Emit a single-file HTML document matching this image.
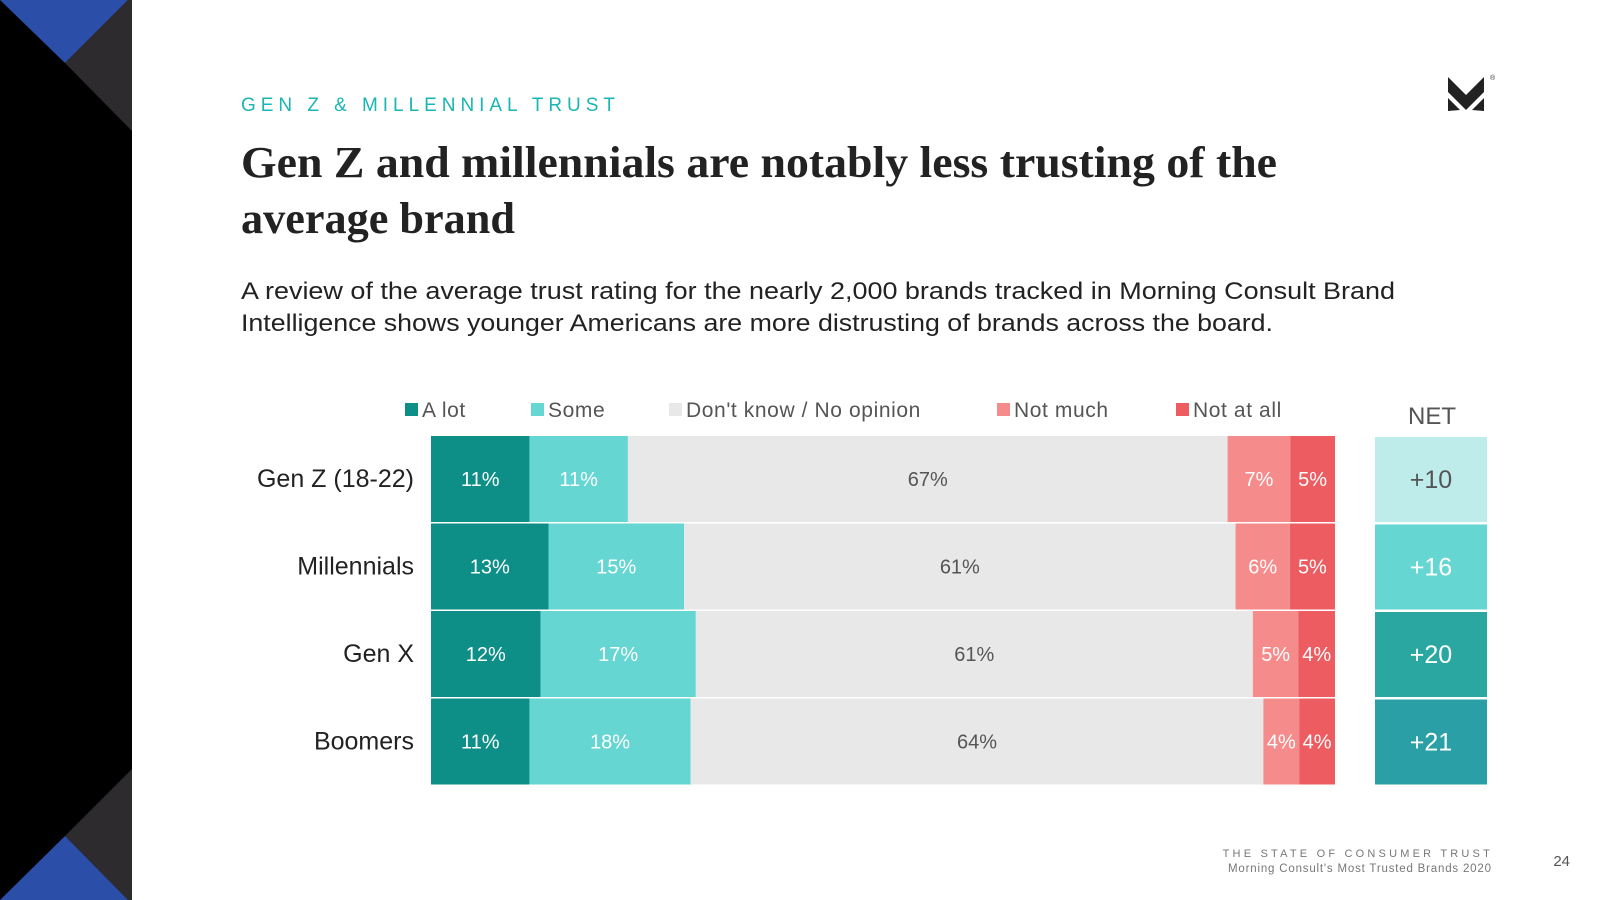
<!DOCTYPE html>
<html><head><meta charset="utf-8"><style>
html,body{margin:0;padding:0;width:1600px;height:900px;overflow:hidden;background:#fff;font-family:"Liberation Sans",sans-serif}
svg{display:block}
</style></head><body>
<svg width="1600" height="900" viewBox="0 0 1600 900">
  <g>
    <rect x="0" y="0" width="132" height="900" fill="#000"/>
    <polygon points="0,0 128,0 65,63" fill="#2b4fa8"/>
    <polygon points="128,0 132,0 132,131 65,63" fill="#2d2b2e"/>
    <polygon points="132,769 65,836 128,900 132,900" fill="#2d2b2e"/>
    <polygon points="0,900 65,836 128,900" fill="#2b4fa8"/>
  </g>
  <g>
    <polygon points="1448,77 1466,95 1484,77 1484,92 1466,110 1448,92" fill="#222"/>
    <polygon points="1448,98 1460,110 1448,111" fill="#222"/>
    <polygon points="1484,98 1472,110 1484,111" fill="#222"/>
    <text x="1490" y="80" font-size="7" fill="#333">®</text>
  </g>
  <text x="241" y="111" font-size="19" fill="#1ab5b5" letter-spacing="4" textLength="378" lengthAdjust="spacing">GEN Z &amp; MILLENNIAL TRUST</text>
  <text x="241" y="177" font-family="'Liberation Serif',serif" font-weight="bold" font-size="44" fill="#222" textLength="1036" lengthAdjust="spacingAndGlyphs">Gen Z and millennials are notably less trusting of the</text>
  <text x="241" y="233" font-family="'Liberation Serif',serif" font-weight="bold" font-size="44" fill="#222" textLength="274" lengthAdjust="spacingAndGlyphs">average brand</text>
  <text x="241" y="299" font-size="24" fill="#222" textLength="1154" lengthAdjust="spacingAndGlyphs">A review of the average trust rating for the nearly 2,000 brands tracked in Morning Consult Brand</text>
  <text x="241" y="331" font-size="24" fill="#222" textLength="1032" lengthAdjust="spacingAndGlyphs">Intelligence shows younger Americans are more distrusting of brands across the board.</text>
  <g id="legend"></g>
  <text x="1432" y="424" font-size="24" fill="#555" text-anchor="middle">NET</text>
  <g id="chart"></g>
  <text x="1493" y="857" font-size="11" fill="#777" letter-spacing="3.2" text-anchor="end">THE STATE OF CONSUMER TRUST</text>
  <text x="1228" y="872" font-size="11.5" fill="#777" textLength="263" lengthAdjust="spacing">Morning Consult's Most Trusted Brands 2020</text>
  <text x="1570" y="866" font-size="15" fill="#555" text-anchor="end">24</text>
</svg>
<script>
const categories = ["Gen Z (18-22)", "Millennials", "Gen X", "Boomers"];
const seriesNames = ["A lot", "Some", "Don't know / No opinion", "Not much", "Not at all"];
const aLot = [11, 13, 12, 11];
const some = [11, 15, 17, 18];
const dontKnow = [67, 61, 61, 64];
const notMuch = [7, 6, 5, 4];
const notAtAll = [5, 5, 4, 4];
const netValues = ["+10", "+16", "+20", "+21"];

const NS = "http://www.w3.org/2000/svg";
const colors = ["#0d8f87", "#66d6d3", "#e8e8e8", "#f68b8b", "#ec5c60"];
const netColors = ["#bdecea", "#66d6d3", "#2aa7a1", "#2a9fa5"];
const barX0 = 431, barX1 = 1335, rowTop = 436, rowStep = 87.5, rowH = 86;
function rowY(i){ return rowTop + i * rowStep; }
function mk(tag, attrs, parent){ const e = document.createElementNS(NS, tag); for (const k in attrs) e.setAttribute(k, attrs[k]); parent.appendChild(e); return e; }

const legend = document.getElementById('legend');
const legendX = [405, 531, 669, 997, 1176];
seriesNames.forEach((n, i) => {
  const sq = mk('rect', {x: legendX[i], y: 403, width: 13, height: 13, fill: colors[i]}, legend);
  
  
  const t = mk('text', {x: legendX[i] + 17, y: 417, 'font-size': 21, fill: '#555', 'letter-spacing': 0.6}, legend);
  
  
  t.textContent = n;
});

const chart = document.getElementById('chart');
const series = [aLot, some, dontKnow, notMuch, notAtAll];
categories.forEach((c, i) => {
  const y = rowY(i);
  const lab = mk('text', {x: 414, y: y + rowH / 2 + 8, 'font-size': 25, fill: '#222', 'text-anchor': 'end'}, chart);
  
  
  lab.textContent = c;
  const total = series.reduce((s, a) => s + a[i], 0);
  const sx = v => v / total * (barX1 - barX0);
  let x = barX0;
  series.forEach((arr, k) => {
    const w = sx(arr[i]);
    const r = mk('rect', {x: x, y: y, width: w, height: rowH, fill: colors[k]}, chart);
    
    
    const t = mk('text', {x: x + w / 2, y: y + rowH / 2 + 7, 'font-size': 20, fill: k === 2 ? '#555' : '#fff', 'text-anchor': 'middle'}, chart);
    
    
    t.textContent = arr[i] + '%';
    x += w;
  });
  const nb = mk('rect', {x: 1375, y: y + 1, width: 112, height: rowH - 1, fill: netColors[i]}, chart);
  
  
  const nt = mk('text', {x: 1431, y: y + rowH / 2 + 9, 'font-size': 25, fill: i === 0 ? '#555' : '#fff', 'text-anchor': 'middle'}, chart);
  
  
  nt.textContent = netValues[i];
});
</script>
</body></html>
